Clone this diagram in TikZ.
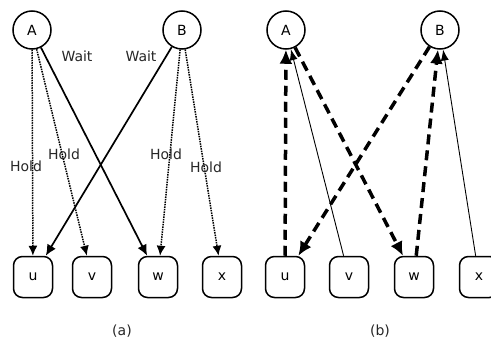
\documentclass[tikz,border=0pt]{standalone}
\usepackage{fontspec}
\setmainfont{DejaVu Sans}
\usetikzlibrary{arrows.meta}
\tikzset{
	proc/.style={circle, draw, line width=1.5pt, minimum size=38pt, inner sep=0pt},
	res/.style={rectangle, draw, rounded corners=9pt, line width=1.5pt, minimum width=39pt, minimum height=41pt, inner sep=0pt},
	lbl/.style={inner sep=0pt, text=black!85},
	hold/.style={densely dotted, line width=1.5pt, -{Latex[length=10pt,width=9pt]}},
	wait/.style={line width=1.7pt, -{Latex[length=11pt,width=10pt]}},
	heavy/.style={line width=3.5pt, dash pattern=on 10pt off 6pt, -{Latex[length=14pt,width=13pt]}},
	light/.style={line width=0.9pt, -{Latex[length=11pt,width=8pt]}},
}
\begin{document}
\begin{tikzpicture}[x=1pt,y=-1pt,font=\fontsize{14}{16}\selectfont]
		\useasboundingbox (0,0) rectangle (491,343);
		% (a)
		\node[proc] (Aa) at (32,30) {A};
		\node[proc] (Ba) at (182,30) {B};
		\node[res] (ua) at (33,277) {u};
		\node[res] (va) at (92,277) {v};
		\node[res] (wa) at (158,277) {w};
		\node[res] (xa) at (222,277) {x};
		\draw[hold] (Aa) -- (ua);
		\draw[hold] (Aa) -- (va);
		\draw[wait] (Aa) -- (wa);
		\draw[wait] (Ba) -- (ua);
		\draw[hold] (Ba) -- (wa);
		\draw[hold] (Ba) -- (xa);
		\node[lbl] (waitA) at (77,56) {Wait};
		\node[lbl] (waitB) at (141,56) {Wait};
		\node[lbl] (holdAu) at (26,166) {Hold};
		\node[lbl] (holdAv) at (64,154) {Hold};
		\node[lbl] (holdBw) at (166,154) {Hold};
		\node[lbl] (holdBx) at (206,167) {Hold};
		\node[lbl] (capa) at (122,331) {(a)};
		% (b)
		\node[proc] (Ab) at (286,30) {A};
		\node[proc] (Bb) at (440,30) {B};
		\node[res] (ub) at (285,277) {u};
		\node[res] (vb) at (349,277) {v};
		\node[res] (wb) at (414,277) {w};
		\node[res] (xb) at (479,277) {x};
		\draw[heavy] (ub) -- (Ab);
		\draw[light] (vb) -- (Ab);
		\draw[heavy] (Ab) -- (wb);
		\draw[heavy] (Bb) -- (ub);
		\draw[heavy] (wb) -- (Bb);
		\draw[light] (xb) -- (Bb);
		\node[lbl] (capb) at (380,331) {(b)};
	\end{tikzpicture}
\end{document}
